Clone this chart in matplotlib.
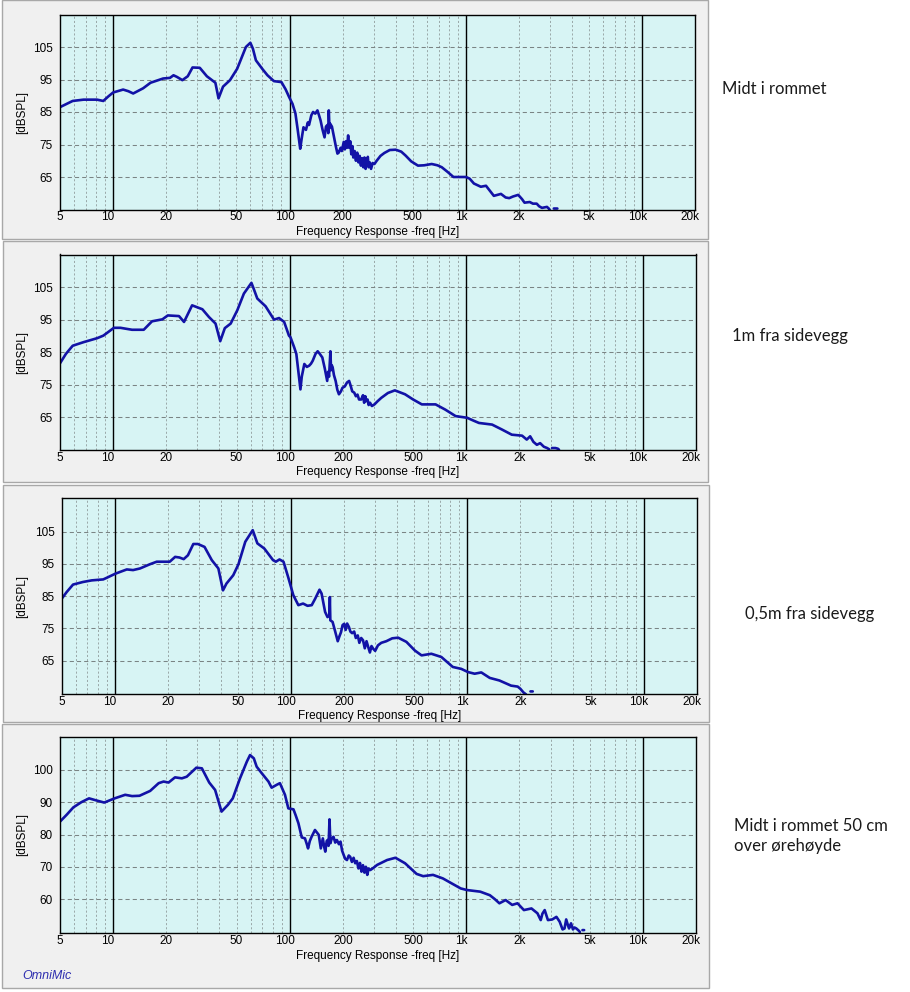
import numpy as np
import matplotlib
matplotlib.use("Agg")
import matplotlib.pyplot as plt
from matplotlib.patches import Rectangle
from matplotlib.transforms import blended_transform_factory, offset_copy

plt.rcParams['font.family'] = ['Liberation Sans', 'DejaVu Sans']
plt.rcParams['lines.scale_dashes'] = False

W, H = 910, 992
nan = np.nan

# ---- data (freq in Hz, level in dB SPL)
p1_freq = [5, 5.5, 5.9, 6.8, 8.1, 8.8, 9.4, 10.0, 11.4, 12.2, 13.0, 14.8, 16.3, 19.2, 21.0, 22.0,
           23.0, 24.7, 26.5, 28.2, 31.0, 34.0, 38.0, 39.6, 42.0, 46.0, 50.5, 56.6, 60.0, 62.0,
           64.5, 70.5, 75.0, 81.6, 90.0, 95.0, 99.5, 104, 108, 111, 115, 117, 120, 124, 127, 129,
           133, 136, 140, 144, 147, 150, 154, 158, 161, 164, 166, 167, 168.5, 170, 174, 178, 183,
           187, 190, 195, 198, 203, 206, 209, 212, 215, 218, 221, 224, 227, 230, 234, 238, 242,
           246, 250, 254, 258, 262, 266, 270, 274, 278, 281, 285, 290, 296, 303, 312, 328, 345,
           370, 400, 430, 455, 490, 535, 580, 640, 690, 730, 790, 850, 1000, 1050, 1110, 1215,
           1300, 1380, 1440, 1580, 1680, 1760, 1850, 1980, 2080, 2150, 2300, 2400, 2520, 2600,
           2700, 2880, 2950, 3000, nan, 3150, 3300]
p1_db = [86.5, 87.6, 88.4, 88.8, 88.8, 88.4, 89.8, 91.0, 91.9, 91.4, 90.7, 92.3, 94.0, 95.3, 95.5, 96.3,
         95.8, 94.8, 96.0, 98.7, 98.6, 96.0, 94.0, 89.2, 92.8, 94.8, 98.3, 105.0, 106.3, 104.5,
         100.9, 98.1, 96.3, 94.5, 94.2, 92.0, 89.6, 87.5, 84.6, 80.0, 73.7, 76.5, 80.3, 79.5, 81.8, 81.0,
         84.0, 85.0, 84.5, 85.5, 84.0, 82.4, 79.5, 77.2, 80.5, 81.0, 78.5, 85.5, 80.0, 81.4, 80.5, 77.8, 74.5,
         72.2, 72.5, 74.0, 73.0, 75.8, 73.5, 76.0, 74.0, 77.8, 74.0, 76.0, 72.0, 74.5, 71.0, 73.0, 70.0, 72.5,
         69.5, 71.5, 68.5, 70.8, 68.0, 71.0, 67.5, 69.5, 71.2, 68.0, 69.5, 67.5, 69.3, 69.0, 70.0, 71.5, 72.4,
         73.3, 73.4, 72.8, 71.6, 69.8, 68.5, 68.6, 69.0, 68.6, 68.0, 66.5, 65.0, 65.0, 64.5, 63.0, 62.0,
         62.3, 60.5, 59.2, 59.8, 58.7, 58.5, 59.0, 59.5, 58.2, 57.1, 57.3, 56.8, 56.8, 56.0,
         55.5, 55.8, 55.3, 54.6, nan, 55.3, 55.3]

p2_freq = [5, 5.4, 5.9, 6.8, 8.1, 8.8, 10.1, 11.0, 12.8, 14.9, 16.6, 19.0, 20.4, 23.6, 25.2, 28.0,
           32.0, 34.9, 38.0, 40.4, 42.9, 46.3, 50.5, 55.0, 60.7, 62.5, 65.5, 73.0, 81.5, 87.0, 93.0,
           99.0, 101, 106, 109, 112, 115, 117, 121, 125, 129, 132, 135, 140, 144, 148, 153, 158, 163,
           165, 167, 170, 171.5, 173, 175, 178, 182, 186, 190, 195, 199, 205, 211, 217, 222, 226, 232,
           237, 242, 247, 254, 260, 264, 268, 271, 276, 280, 285, 292, 302, 315, 330, 360, 394, 450,
           500, 560, 670, 760, 870, 1010, 1100, 1180, 1400, 1590, 1810, 2070, 2200, 2300, 2400, 2510,
           2620, 2750, 2870, 2950, nan, 3060, 3200, 3300, 3350]
p2_db = [81.6, 84.5, 87.0, 88.1, 89.3, 90.1, 92.5, 92.5, 91.9, 91.9, 94.5, 95.1, 96.3, 96.1, 94.3, 99.4,
         98.2, 95.8, 93.8, 88.4, 92.4, 93.8, 97.9, 103.0, 106.3, 104.5, 101.5, 99.1, 95.0, 95.5, 94.3,
         90.1, 89.6, 86.5, 84.5, 79.0, 73.6, 77.5, 81.4, 80.5, 80.9, 81.5, 82.4, 84.5, 85.3, 84.5, 83.4, 80.0, 76.2,
         79.0, 77.5, 85.3, 79.5, 81.0, 80.4, 78.0, 76.2, 73.5, 72.1, 73.0, 74.1, 74.5, 75.7, 76.2, 74.5, 73.0, 72.6,
         71.5, 72.0, 70.5, 70.5, 71.8, 69.5, 71.5, 70.0, 70.5, 68.8, 69.5, 68.5, 69.0, 70.0, 71.0, 72.5, 73.3, 72.1,
         70.5, 69.0, 69.0, 67.4, 65.4, 64.9, 64.0, 63.3, 62.8, 61.3, 59.7, 59.4, 58.2, 59.2, 57.5, 56.6,
         57.1, 56.0, 55.6, 55.2, nan, 55.6, 55.6, 55.4, 55.1]

p3_freq = [5, 5.34, 5.8, 6.6, 7.4, 8.6, 9.0, 10.1, 11.7, 12.7, 13.9, 15.8, 17.3, 20.5, 22.0, 23.3,
           24.6, 26.0, 27.9, 29.6, 32.3, 35.5, 38.7, 41.1, 43.0, 47.0, 50.3, 55.0, 60.6, 64.4, 70.5,
           79.0, 82.0, 86.0, 90.6, 96.2, 103, 110, 117, 124, 131, 137, 145, 149, 156, 161, 165, 166,
           167, 172, 178, 184, 188, 192, 196, 200, 204, 208, 213, 217, 222, 228, 233, 239, 244, 250,
           256, 262, 268, 274, 280, 286, 292, 300, 311, 325, 347, 375, 405, 451, 504, 550, 625, 712,
           827, 924, 1010, 1100, 1200, 1340, 1520, 1770, 1930, 2000, 2080, 2150, nan, 2280, 2350]
p3_db = [84.2, 86.3, 88.6, 89.4, 89.9, 90.2, 90.7, 92.0, 93.3, 93.1, 93.6, 94.9, 95.7, 95.7, 97.2, 97.0,
         96.5, 97.7, 101.2, 101.2, 100.3, 96.2, 93.6, 86.8, 88.9, 91.5, 94.9, 101.9, 105.5, 101.4, 99.8,
         96.2, 95.7, 96.4, 95.7, 91.0, 85.3, 82.2, 82.7, 82.0, 82.2, 84.2, 87.0, 85.8, 80.1, 78.5, 79.0, 84.7,
         77.5, 77.0, 74.0, 71.0, 72.5, 73.8, 76.0, 76.4, 74.5, 76.5, 75.4, 74.0, 73.5, 74.0, 72.0, 72.8, 70.5, 72.0,
         71.3, 68.8, 71.0, 69.2, 67.5, 69.5, 68.7, 68.0, 69.7, 70.5, 71.0, 71.9, 72.1, 70.8, 68.1, 66.6, 67.1, 66.1,
         63.0, 62.4, 61.4, 60.9, 61.3, 59.6, 58.8, 57.2, 56.9, 56.2, 55.1, 54.5, nan, 55.4, 55.4]

p4_freq = [5, 5.45, 5.95, 6.6, 7.3, 8.1, 8.9, 10.2, 11.7, 12.8, 14.1, 16.2, 18.1, 19.3, 20.6, 22.4,
           24.5, 26.1, 29.6, 31.8, 35.0, 37.8, 41.1, 44.7, 47.6, 52.3, 57.2, 59.6, 62.6, 65.0, 69.4,
           75.8, 79.0, 84.4, 88.0, 94.0, 98.2, 105, 108, 112, 117, 122, 125, 127, 130, 133, 139, 146,
           150, 154, 157, 159, 162, 164, 166, 168, 170, 173, 177, 181, 185, 190, 194, 198, 202, 206,
           211, 216, 220, 225, 230, 235, 240, 245, 250, 255, 260, 265, 270, 275, 280, 286, 295, 313,
           356, 397, 450, 523, 570, 648, 737, 837, 930, 1010, 1200, 1360, 1450, 1540, 1670, 1820, 1950,
           2120, 2340, 2530, 2640, 2700, 2780, 2900, 3070, 3240, 3380, 3510, 3600, 3680, 3760, 3820,
           3920, 4020, 4100, 4200, 4340, 4400, nan, 4550, 4650]
p4_db = [84.0, 86.1, 88.4, 90.0, 91.2, 90.5, 89.9, 91.2, 92.3, 91.9, 92.0, 93.5, 95.9, 96.4, 96.1, 97.7,
         97.4, 97.9, 100.7, 100.5, 96.1, 93.8, 87.1, 89.2, 91.2, 97.4, 102.6, 104.6, 103.6, 101.0, 99.0,
         96.4, 94.5, 95.4, 95.9, 92.3, 88.1, 87.8, 86.0, 83.5, 79.1, 78.8, 77.0, 75.7, 78.0, 79.3, 81.4, 79.9,
         75.7, 78.8, 76.0, 74.7, 78.0, 78.3, 76.5, 84.7, 77.3, 78.8, 79.3, 77.5, 78.3, 77.0, 77.8, 75.0, 73.7, 72.5,
         72.1, 73.5, 73.1, 71.5, 72.8, 71.1, 71.8, 69.5, 71.2, 68.5, 70.5, 68.2, 70.0, 67.5, 69.5, 69.0, 69.5, 70.6,
         72.1, 72.8, 71.1, 67.8, 67.1, 67.5, 66.4, 64.7, 63.3, 62.8, 62.3, 61.2, 60.0, 58.7, 59.7, 58.2, 58.7,
         56.6, 57.1, 55.6, 53.5, 55.5, 56.6, 53.5, 53.7, 54.5, 53.0, 50.6, 50.9, 53.7, 52.0, 50.9,
         52.5, 50.6, 51.2, 50.9, 50.2, 49.8, nan, 50.4, 50.4]

x_tick_vals = [5, 10, 20, 50, 100, 200, 500, 1000, 2000, 5000, 10000, 20000]
x_tick_text = ['5', '10', '20', '50', '100', '200', '500', '1k', '2k', '5k', '10k', '20k']
decades = [10, 100, 1000, 10000]
minor_lines = [m * d for d in [1, 10, 100, 1000] for m in range(2, 10)]
minor_lines = [m for m in minor_lines if m > 5]

yticks_a = [65, 75, 85, 95, 105]
yticks_b = [60, 70, 80, 90, 100]

captions = ['Midt i rommet', '1m fra sidevegg', '0,5m fra sidevegg',
            'Midt i rommet 50 cm\nover ørehøyde']

# ---- layout (pixels)
panels = [
    dict(win=(1.5, 0.5, 707.5, 238.5), ax=(60, 14.5, 695.4, 209.5), ylim=(55, 115), yt=yticks_a,
         f=p1_freq, d=p1_db, cap=(722, 89)),
    dict(win=(2.5, 241.5, 708, 482.5), ax=(60, 254.5, 696, 450), ylim=(55, 115), yt=yticks_a,
         f=p2_freq, d=p2_db, cap=(732, 336)),
    dict(win=(3, 485, 709, 722), ax=(61.7, 498.3, 696.7, 694), ylim=(54.6, 115.4), yt=yticks_a,
         f=p3_freq, d=p3_db, cap=(745, 614)),
    dict(win=(2, 724, 709, 988), ax=(60, 737, 696, 933), ylim=(49.5, 110.2), yt=yticks_b,
         f=p4_freq, d=p4_db, cap=(734, 836)),
]

fig = plt.figure(figsize=(W / 100, H / 100), dpi=100, facecolor='white')


def frect(x0, y0, x1, y1):
    return [x0 / W, 1 - y1 / H, (x1 - x0) / W, (y1 - y0) / H]


line_col = '#1212a6'
for i, p in enumerate(panels):
    wx0, wy0, wx1, wy1 = p['win']
    fig.patches.append(Rectangle((wx0 / W, 1 - wy1 / H), (wx1 - wx0) / W, (wy1 - wy0) / H,
                                 transform=fig.transFigure, facecolor='#f0f0f0',
                                 edgecolor='#a8a8a8', lw=1.0, zorder=-5))
    ax = fig.add_axes(frect(*p['ax']))
    ax.set_xscale('log')
    ax.set_xlim(5, 20000)
    ax.set_ylim(*p['ylim'])
    ax.set_facecolor('#d7f4f4')

    for m in minor_lines:
        ax.axvline(m, color='#9aa8a8', lw=0.7, ls=(0, (1.5, 1.5)), zorder=1)
    for v in p['yt']:
        ax.axhline(v, color='#7a8484', lw=0.75, ls=(0, (3.0, 2.2)), zorder=1)
    for dd in decades:
        ax.axvline(dd, color='black', lw=1.0, zorder=2)

    ax.plot(p['f'], p['d'], color=line_col, lw=1.9, solid_joinstyle='round',
            solid_capstyle='round', zorder=3)

    for s in ax.spines.values():
        s.set_color('black')
        s.set_linewidth(1.0)
        s.set_zorder(4)

    ax.set_xticks([])
    ax.minorticks_off()
    ax.set_yticks(p['yt'])
    ax.set_yticklabels([str(v) for v in p['yt']], fontsize=8.5)
    ax.tick_params(axis='y', length=0, pad=5)

    trans = blended_transform_factory(ax.transData, ax.transAxes)
    for v, t in zip(x_tick_vals, x_tick_text):
        dx = -5 if t in ('10', '100', '1k', '10k', '20k') else 0
        ax.text(v, 0, t, transform=offset_copy(trans, fig=fig, x=dx, y=-2, units='dots'),
                ha='center', va='top', fontsize=8.5, clip_on=False)

    ax0, ay0, ax1, ay1 = p['ax']
    fig.text((ax0 + ax1) / 2 / W, 1 - (ay1 + 22.5) / H, 'Frequency Response -freq [Hz]',
             ha='center', va='center', fontsize=8.5)
    fig.text(22 / W, 1 - (ay0 + ay1) / 2 / H, '[dBSPL]', rotation=90,
             ha='center', va='center', fontsize=8.5)

    cx, cy = p['cap']
    fig.text(cx / W, 1 - cy / H, captions[i], ha='left', va='center', fontsize=12,
             family=['Lato', 'DejaVu Sans'], color='#1a1a1a', linespacing=1.25)

fig.text(22 / W, 1 - 976 / H, 'OmniMic', ha='left', va='center', fontsize=9,
         style='italic', color='#2e2eb0')

fig.savefig('out.png', dpi=100, facecolor='white')
